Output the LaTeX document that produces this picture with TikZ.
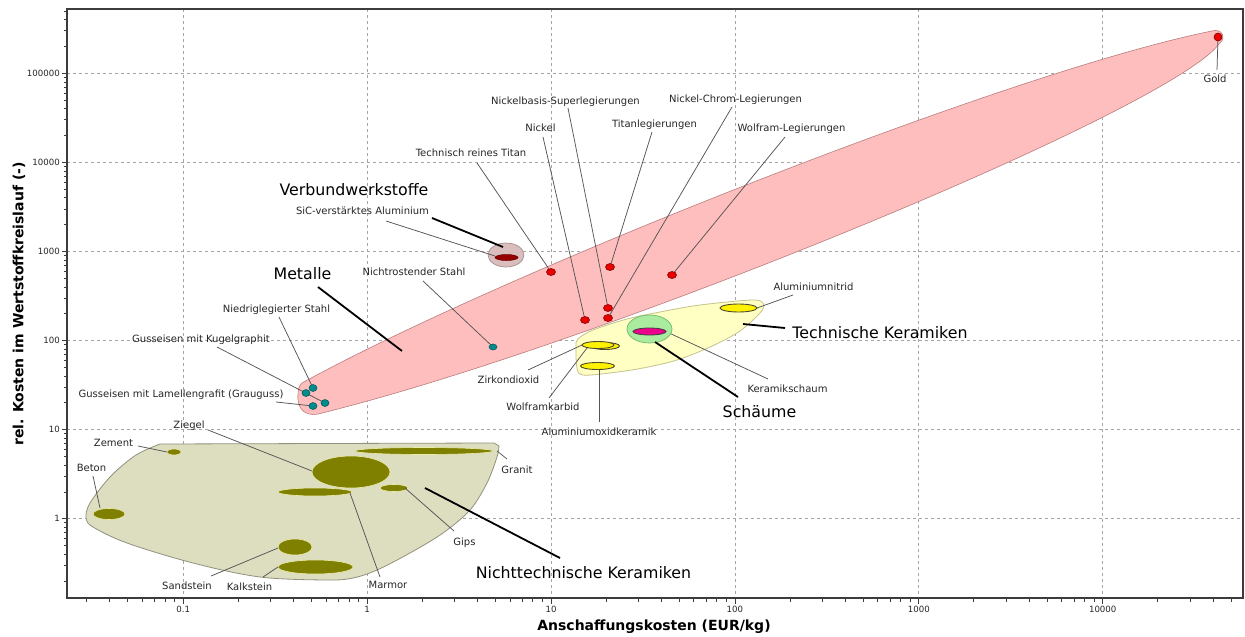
\documentclass[tikz,border=0pt]{standalone}
\usepackage{fontspec}
\setmainfont{DejaVu Sans}
\usetikzlibrary{shapes.geometric}
\definecolor{metfill}{RGB}{255,190,190}
\definecolor{metdraw}{RGB}{185,125,125}
\definecolor{tkfill}{RGB}{255,255,195}
\definecolor{tkdraw}{RGB}{195,195,140}
\definecolor{ntkfill}{RGB}{221,221,192}
\definecolor{ntkdraw}{RGB}{145,145,125}
\definecolor{blobolive}{RGB}{128,128,0}
\definecolor{blobrim}{RGB}{235,235,170}
\definecolor{vbfill}{RGB}{218,190,190}
\definecolor{vbdraw}{RGB}{160,130,130}
\definecolor{vbcore}{RGB}{150,0,0}
\definecolor{dotred}{RGB}{235,0,0}
\definecolor{dotreddraw}{RGB}{130,0,0}
\definecolor{dotteal}{RGB}{0,140,140}
\definecolor{foamgreen}{RGB}{170,235,160}
\definecolor{foamdraw}{RGB}{110,185,110}
\definecolor{gridgray}{RGB}{165,165,165}
\definecolor{leadgray}{RGB}{85,85,85}
\definecolor{framegray}{RGB}{60,60,60}
\tikzset{
  gridline/.style={gridgray, dash pattern=on 3pt off 3pt, line width=0.8pt},
  leader/.style={leadgray, line width=0.75pt},
  bigleader/.style={black, line width=1.8pt},
  lbl/.style={font=\fontsize{10}{12}\selectfont, anchor=base, yshift=-3.6pt, inner sep=0pt, text=black!85},
  biglbl/.style={font=\fontsize{15.8}{19}\selectfont, anchor=base, yshift=-5.7pt, inner sep=0pt, text=black},
  ticklbl/.style={font=\fontsize{8.6}{10}\selectfont, inner sep=0pt, text=black!85},
  blob/.style 2 args={ellipse, inner sep=0pt, minimum width=#1pt, minimum height=#2pt},
  reddot/.style={blob={9}{7}, fill=dotred, draw=dotreddraw, line width=0.6pt},
  tealdot/.style={blob={8}{7}, fill=dotteal, draw=dotteal!60!black, line width=0.5pt},
  olblob/.style={fill=blobolive, draw=blobrim, line width=0.6pt},
  yelblob/.style={fill=yellow, draw=black!60!olive, line width=0.9pt},
  metenv/.style={fill=metfill, draw=metdraw, line width=0.6pt},
  tkenv/.style={fill=tkfill, draw=tkdraw, line width=0.8pt},
  ntkenv/.style={fill=ntkfill, draw=ntkdraw, line width=0.8pt},
  minortick/.style={framegray, line width=0.6pt},
  majortick/.style={framegray, line width=0.8pt}
}
\begin{document}
\begin{tikzpicture}[x=1pt,y=-1pt]
\useasboundingbox (0,0) rectangle (1245,637);
\fill[white] (0,0) rectangle (1245,637);

% grid
\foreach \gx in {183.2,367.1,551,734.9,918.8,1102.7} \draw[gridline] (\gx,9) -- (\gx,598);
\foreach \gy in {73.2,162.3,251.4,340.5,429.6,518.7} \draw[gridline] (67,\gy) -- (1243,\gy);

% envelopes
\draw[ntkenv] (160,444) -- (494,443) -- plot[smooth, tension=0.55] coordinates {(499,446) (497,457) (487,483) (470,510) (443,533) (410,553) (377,570) (353,578) (327,580) (260,577) (193,563) (127,543) (93,527) (86,518) (90,503) (110,477) (133,457) (150,448)} -- cycle;

\draw[metenv] (302,383) .. controls (502,273) and (1012,71) .. (1212,31)
  .. controls (1222,28) and (1227,38) .. (1219,44)
  .. controls (1170,110) and (600,345) .. (318,414)
  .. controls (302,417) and (297,405) .. (298,395)
  .. controls (298,389) and (299,386) .. cycle;

\draw[tkenv] plot[smooth cycle, tension=0.55] coordinates {(578,339) (593,330) (627,319) (660,312) (693,306) (727,302) (755,300) (763,303) (763,309) (753,320) (737,333) (710,347) (677,360) (643,368) (610,373) (583,375) (577,368) (576,347)};

\node[blob={36}{24}, fill=vbfill, draw=vbdraw, line width=0.6pt] (vb) at (506,255) {};

% dot positions
\coordinate (cTi) at (551,272);
\coordinate (cTiL) at (610,267);
\coordinate (cWL) at (672,275);
\coordinate (cNiB) at (608,308);
\coordinate (cNiCr) at (608,318);
\coordinate (cNi) at (585,320);
\coordinate (cAu) at (1218,37);
\coordinate (cNS) at (493,347);
\coordinate (cNL) at (313,388);
\coordinate (cNL2) at (306,393);
\coordinate (cGK) at (325,403);
\coordinate (cGL) at (313,406);

% leader start points (label side)
\coordinate (sTi) at (477,163);
\coordinate (sNi) at (543,137);
\coordinate (sNiB) at (568,108);
\coordinate (sTiL) at (652,132);
\coordinate (sNiCr) at (732,107);
\coordinate (sWL) at (785,137);
\coordinate (sAu) at (1217,70);
\coordinate (sSiC) at (386,221);
\coordinate (eSiC) at (495,256);
\coordinate (sVB) at (432,218);
\coordinate (eVB) at (503,247);
\coordinate (sMet) at (318,287);
\coordinate (eMet) at (402,351);
\coordinate (sNS) at (423,281);
\coordinate (sNL) at (279,317);
\coordinate (sGK) at (217,347);
\coordinate (sGL) at (276,402);
\coordinate (sAlN) at (793,295);
\coordinate (eAlN) at (757,308);
\coordinate (sTK) at (785,328);
\coordinate (eTK) at (743,324);
\coordinate (sSch) at (738,397);
\coordinate (eSch) at (655,342);
\coordinate (sKS) at (768,379);
\coordinate (eKS) at (667,332);
\coordinate (sZr) at (528,370);
\coordinate (eZr) at (582,345);
\coordinate (sWC) at (549,398);
\coordinate (eWC) at (587,348);
\coordinate (sAlO) at (599,422);
\coordinate (eAlO) at (599,367);
\coordinate (sZie) at (208,430);
\coordinate (eZie) at (312,471);
\coordinate (sZem) at (138,446);
\coordinate (eZem) at (167,452);
\coordinate (sBet) at (93,476);
\coordinate (eBet) at (100,508);
\coordinate (sSan) at (211,576);
\coordinate (eSan) at (278,548);
\coordinate (sKal) at (263,577);
\coordinate (eKal) at (278,567);
\coordinate (sMar) at (380,577);
\coordinate (eMar) at (350,493);
\coordinate (sGip) at (454,531);
\coordinate (eGip) at (405,488);
\coordinate (sGra) at (507,459);
\coordinate (eGra) at (497,451);
\coordinate (sNTK) at (425,488);
\coordinate (eNTK) at (560,558);

% non-technical ceramics blobs
\node[olblob, blob={138}{7}] (gra) at (424,451) {};
\node[olblob, blob={14}{6}] (zem) at (174,452) {};
\node[olblob, blob={32}{11}] (bet) at (109,514) {};
\node[olblob, blob={78}{32}] (zie) at (351,472) {};
\node[olblob, blob={74}{8}] (mar) at (315,492) {};
\node[olblob, blob={28}{7}] (gip) at (394,488) {};
\node[olblob, blob={34}{16}] (san) at (295,547) {};
\node[olblob, blob={75}{14}] (kal) at (315.5,567) {};

% leaders thin
\draw[leader] (sTi) -- (cTi);
\draw[leader] (sNi) -- (cNi);
\draw[leader] (sNiB) -- (cNiB);
\draw[leader] (sTiL) -- (cTiL);
\draw[leader] (sNiCr) -- (cNiCr);
\draw[leader] (sWL) -- (cWL);
\draw[leader] (sAu) -- (cAu);
\draw[leader] (sSiC) -- (eSiC);
\draw[leader] (sNS) -- (cNS);
\draw[leader] (sNL) -- (cNL);
\draw[leader] (sGK) -- (cGK);
\draw[leader] (sGL) -- (cGL);
\draw[leader] (sAlN) -- (eAlN);
\draw[leader] (sKS) -- (eKS);
\draw[leader] (sZr) -- (eZr);
\draw[leader] (sWC) -- (eWC);
\draw[leader] (sAlO) -- (eAlO);
\draw[leader] (sZie) -- (eZie);
\draw[leader] (sZem) -- (eZem);
\draw[leader] (sBet) -- (eBet);
\draw[leader] (sSan) -- (eSan);
\draw[leader] (sKal) -- (eKal);
\draw[leader] (sMar) -- (eMar);
\draw[leader] (sGip) -- (eGip);
\draw[leader] (sGra) -- (eGra);

% technical ceramics blobs
\node[blob={45}{28}, fill=foamgreen, draw=foamdraw, line width=0.7pt] (foam) at (649.5,329) {};
\node[yelblob, blob={29}{7}] (wc) at (605,346) {};
\node[yelblob, blob={32}{7}] (zr) at (598,345) {};
\node[yelblob, blob={34}{7}] (alo) at (597.5,366) {};
\node[yelblob, blob={37}{8}] (aln) at (738.5,308) {};
\node[blob={33}{7}, fill=magenta, draw=black!75, line width=0.8pt] (ks) at (649.5,331.5) {};

% composite core
\node[blob={23}{6}, fill=vbcore, draw=vbcore!70!black, line width=0.5pt] (sic) at (506.5,257.5) {};

% metal dots
\node[reddot] (dTi) at (cTi) {};
\node[reddot] (dTiL) at (cTiL) {};
\node[reddot] (dWL) at (cWL) {};
\node[reddot] (dNiB) at (cNiB) {};
\node[reddot] (dNiCr) at (cNiCr) {};
\node[reddot] (dNi) at (cNi) {};
\node[reddot, blob={8}{8}] (dAu) at (cAu) {};
\node[tealdot, blob={8}{6}] (dNS) at (cNS) {};
\node[tealdot] (dNL) at (cNL) {};
\node[tealdot] (dNL2) at (cNL2) {};
\node[tealdot] (dGK) at (cGK) {};
\node[tealdot] (dGL) at (cGL) {};

% thick leaders
\draw[bigleader] (sVB) -- (eVB);
\draw[bigleader] (sMet) -- (eMet);
\draw[bigleader] (sTK) -- (eTK);
\draw[bigleader] (sSch) -- (eSch);
\draw[bigleader] (sNTK) -- (eNTK);

% small labels
\node[lbl] (lTi) at (471,153) {Technisch reines Titan};
\node[lbl] (lNi) at (540.5,128) {Nickel};
\node[lbl] (lNiB) at (565.5,101) {Nickelbasis-Superlegierungen};
\node[lbl] (lTiL) at (654.5,124) {Titanlegierungen};
\node[lbl] (lNiCr) at (735.5,99) {Nickel-Chrom-Legierungen};
\node[lbl] (lWL) at (791.5,128) {Wolfram-Legierungen};
\node[lbl] (lAu) at (1215,79) {Gold};
\node[lbl] (lSiC) at (362.5,211) {SiC-verstärktes Aluminium};
\node[lbl] (lNS) at (414,272) {Nichtrostender Stahl};
\node[lbl] (lNL) at (276.5,309) {Niedriglegierter Stahl};
\node[lbl] (lGK) at (201,339) {Gusseisen mit Kugelgraphit};
\node[lbl] (lGL) at (181,394) {Gusseisen mit Lamellengrafit (Grauguss)};
\node[lbl] (lAlN) at (813.5,287) {Aluminiumnitrid};
\node[lbl] (lKS) at (787.5,389) {Keramikschaum};
\node[lbl] (lZr) at (508.5,380) {Zirkondioxid};
\node[lbl] (lWC) at (543,407) {Wolframkarbid};
\node[lbl] (lAlO) at (599,432) {Aluminiumoxidkeramik};
\node[lbl] (lZie) at (189,425) {Ziegel};
\node[lbl] (lZem) at (113.5,443) {Zement};
\node[lbl] (lBet) at (91.5,468) {Beton};
\node[lbl] (lSan) at (187,586) {Sandstein};
\node[lbl] (lKal) at (249.5,587) {Kalkstein};
\node[lbl] (lMar) at (388,585) {Marmor};
\node[lbl] (lGip) at (464.5,542) {Gips};
\node[lbl] (lGra) at (517,470) {Granit};

% big labels
\node[biglbl] (LVB) at (354,190) {Verbundwerkstoffe};
\node[biglbl] (LMet) at (302.5,274) {Metalle};
\node[biglbl] (LTK) at (880,333) {Technische Keramiken};
\node[biglbl] (LSch) at (759.5,412) {Schäume};
\node[biglbl] (LNTK) at (583.5,573) {Nichttechnische Keramiken};

% frame
\draw[framegray, line width=1.2pt] (67,9) rectangle (1243,598);

% x ticks
\foreach \m in {3,...,9} {\pgfmathsetmacro\tx{366.7+183.9*(-2+log10(\m))}\draw[minortick] (\tx,598) -- (\tx,601.5);}
\foreach \k in {-1,...,3} {\foreach \m in {2,...,9} {\pgfmathsetmacro\tx{366.7+183.9*(\k+log10(\m))}\draw[minortick] (\tx,598) -- (\tx,601.5);}}
\foreach \m in {2,...,5} {\pgfmathsetmacro\tx{366.7+183.9*(4+log10(\m))}\draw[minortick] (\tx,598) -- (\tx,601.5);}
\foreach \gx in {183.2,367.1,551,734.9,918.8,1102.7} \draw[majortick] (\gx,598) -- (\gx,604);

% y ticks
\foreach \m in {2,...,9} {\pgfmathsetmacro\ty{518.7-89.1*(-1+log10(\m))}\draw[minortick] (67,\ty) -- (63.5,\ty);}
\foreach \k in {0,...,4} {\foreach \m in {2,...,9} {\pgfmathsetmacro\ty{518.7-89.1*(\k+log10(\m))}\draw[minortick] (67,\ty) -- (63.5,\ty);}}
\foreach \m in {2,...,5} {\pgfmathsetmacro\ty{518.7-89.1*(5+log10(\m))}\draw[minortick] (67,\ty) -- (63.5,\ty);}
\foreach \gy in {73.2,162.3,251.4,340.5,429.6,518.7} \draw[majortick] (67,\gy) -- (61.5,\gy);

% tick labels
\node[ticklbl, anchor=north] (x1) at (183.2,606) {0.1};
\node[ticklbl, anchor=north] (x2) at (367.1,606) {1};
\node[ticklbl, anchor=north] (x3) at (551,606) {10};
\node[ticklbl, anchor=north] (x4) at (734.9,606) {100};
\node[ticklbl, anchor=north] (x5) at (918.8,606) {1000};
\node[ticklbl, anchor=north] (x6) at (1102.7,606) {10000};
\node[ticklbl, anchor=east] (y1) at (60,518.7) {1};
\node[ticklbl, anchor=east] (y2) at (60,429.6) {10};
\node[ticklbl, anchor=east] (y3) at (60,340.5) {100};
\node[ticklbl, anchor=east] (y4) at (60,251.4) {1000};
\node[ticklbl, anchor=east] (y5) at (60,162.3) {10000};
\node[ticklbl, anchor=east] (y6) at (60,73.2) {100000};

% axis titles
\node[font=\fontsize{14}{16}\selectfont\bfseries, inner sep=0pt] (xt) at (654,627) {Anschaffungskosten (EUR/kg)};
\node[font=\fontsize{14}{16}\selectfont\bfseries, inner sep=0pt, rotate=90] (yt) at (19,304) {rel. Kosten im Wertstoffkreislauf (-)};
\end{tikzpicture}
\end{document}
